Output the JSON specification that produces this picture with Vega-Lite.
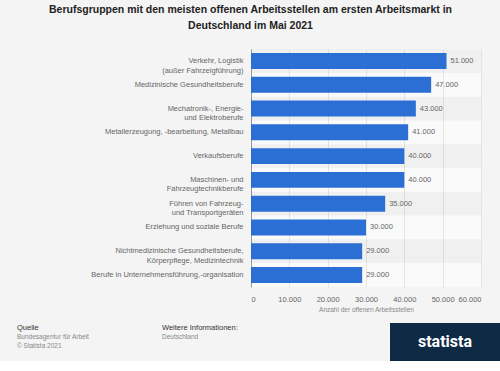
{
  "$schema": "https://vega.github.io/schema/vega-lite/v6.json",
  "background": "#f4f4f4",
  "padding": {"left": 17, "top": 4, "right": 0, "bottom": 0},
  "config": {
    "font": "Liberation Sans",
    "view": {"stroke": null},
    "locale": {"number": {"decimal": ",", "thousands": ".", "grouping": [3], "currency": ["", " €"]}}
  },
  "title": {
    "text": ["Berufsgruppen mit den meisten offenen Arbeitsstellen am ersten Arbeitsmarkt in", "Deutschland im Mai 2021"],
    "fontSize": 10.5,
    "fontWeight": "bold",
    "color": "#222222",
    "lineHeight": 16,
    "anchor": "middle",
    "dx": -8,
    "offset": 18,
    "font": "Liberation Sans"
  },
  "datasets": {
    "jobs": [
      {"label": "Verkehr, Logistik|(außer Fahrzeigführung)", "value": 51000},
      {"label": "Medizinische Gesundheitsberufe", "value": 47000},
      {"label": "Mechatronik-, Energie-|und Elektroberufe", "value": 43000},
      {"label": "Metallerzeugung, -bearbeitung, Metallbau", "value": 41000},
      {"label": "Verkaufsberufe", "value": 40000},
      {"label": "Maschinen- und|Fahrzeugtechnikberufe", "value": 40000},
      {"label": "Führen von Fahrzeug-|und Transportgeräten", "value": 35000},
      {"label": "Erziehung und soziale Berufe", "value": 30000},
      {"label": "Nichtmedizinische Gesundheitsberufe,|Körperpflege, Medizintechnik", "value": 29000},
      {"label": "Berufe in Unternehmensführung,-organisation", "value": 29000}
    ]
  },
  "spacing": 10,
  "vconcat": [
    {
      "width": 230,
      "height": 238,
      "view": {"fill": "#fafafa", "stroke": null},
      "data": {"name": "jobs"},
      "encoding": {
        "x": {
          "field": "value",
          "type": "quantitative",
          "title": "Anzahl der offenen Arbeitsstellen",
          "scale": {"domain": [0, 60000], "nice": false},
          "axis": {
            "values": [0, 10000, 20000, 30000, 40000, 50000, 60000],
            "tickCount": 7,
            "format": ",d",
            "labelOverlap": false,
            "labelFontSize": 7.5,
            "labelColor": "#666666",
            "domain": false,
            "ticks": false,
            "grid": true,
            "gridColor": "#e4e4e4",
            "labelPadding": 8,
            "titleFontSize": 6.5,
            "titleColor": "#888888",
            "titleFontWeight": "normal",
            "titlePadding": 4
          }
        },
        "y": {
          "field": "label",
          "type": "nominal",
          "sort": [
            "Verkehr, Logistik|(außer Fahrzeigführung)",
            "Medizinische Gesundheitsberufe",
            "Mechatronik-, Energie-|und Elektroberufe",
            "Metallerzeugung, -bearbeitung, Metallbau",
            "Verkaufsberufe",
            "Maschinen- und|Fahrzeugtechnikberufe",
            "Führen von Fahrzeug-|und Transportgeräten",
            "Erziehung und soziale Berufe",
            "Nichtmedizinische Gesundheitsberufe,|Körperpflege, Medizintechnik",
            "Berufe in Unternehmensführung,-organisation"
          ],
          "scale": {"paddingInner": 0.33, "paddingOuter": 0.17},
          "axis": {
            "title": null,
            "labelExpr": "split(datum.value, '|')",
            "labelFontSize": 7.5,
            "labelColor": "#666666",
            "labelLineHeight": 9.5,
            "ticks": false,
            "domain": true,
            "domainColor": "#999999",
            "labelPadding": 8,
            "labelLimit": 300,
            "minExtent": 234,
            "grid": false
          }
        }
      },
      "layer": [
        {
          "transform": [
            {"window": [{"op": "row_number", "as": "rn"}]},
            {"filter": "datum.rn % 2 == 1"}
          ],
          "mark": {"type": "bar", "color": "#000000", "opacity": 0.04, "height": {"band": 1.4925}},
          "encoding": {
            "x": {"value": 0},
            "x2": {"value": "width"}
          }
        },
        {
          "mark": {"type": "bar", "color": "#2b6fd5"}
        },
        {
          "mark": {"type": "text", "align": "left", "dx": 4, "fontSize": 7.5, "color": "#666666"},
          "encoding": {
            "text": {"field": "value", "type": "quantitative", "format": ",d"}
          }
        }
      ]
    },
    {
      "spacing": 14,
      "title": {
        "text": "Quelle",
        "subtitle": ["Bundesagentur für Arbeit", "© Statista 2021"],
        "orient": "bottom",
        "anchor": "start",
        "dx": -145,
        "offset": -37,
        "fontSize": 7.5,
        "fontWeight": "normal",
        "color": "#333333",
        "subtitleFontSize": 6.5,
        "subtitleColor": "#888888",
        "subtitleLineHeight": 9,
        "subtitlePadding": 2
      },
      "hconcat": [
        {
          "width": 125,
          "height": 1,
          "data": {"values": []},
          "mark": "text",
          "title": {
            "text": "Weitere Informationen:",
            "subtitle": ["Deutschland"],
            "orient": "bottom",
            "anchor": "start",
            "dx": -89,
            "fontSize": 7.5,
            "fontWeight": "normal",
            "color": "#333333",
            "subtitleFontSize": 6.5,
            "subtitleColor": "#888888",
            "subtitleLineHeight": 9,
            "subtitlePadding": 2,
            "offset": 0
          }
        },
        {
          "width": 110,
          "height": 38,
          "view": {"fill": "#0f2a44", "stroke": null},
          "data": {"values": [{"t": "statista"}]},
          "mark": {"type": "text", "color": "#ffffff", "fontSize": 16, "fontWeight": "bold", "font": "Roboto"},
          "encoding": {"text": {"field": "t", "type": "nominal"}}
        }
      ]
    }
  ]
}
